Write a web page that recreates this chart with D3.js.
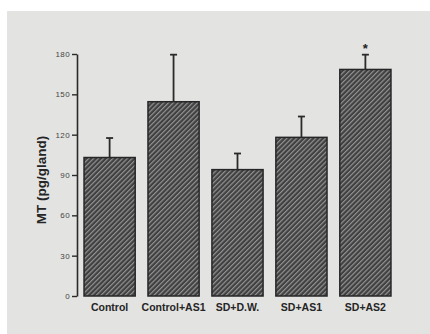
<!DOCTYPE html>
<html>
<head>
<meta charset="utf-8">
<script src="https://cdn.jsdelivr.net/npm/d3@7"></script>
<style>
  body { margin: 0; background: #fff; }
  svg { display: block; }
</style>
</head>
<body>
<div id="chart"></div>
<script>
// values
const groups = ['Control', 'Control+AS1', 'SD+D.W.', 'SD+AS1', 'SD+AS2'];
const means = [103, 144.5, 94, 118, 168.5];
const errors = [14.5, 35, 12, 15.5, 11];
const marks = ['', '', '', '', '*'];
const yTicks = [0, 30, 60, 90, 120, 150, 180];

const W = 430, H = 334;
const margin = { top: 54, right: 32, bottom: 38, left: 77 };
const innerH = H - margin.top - margin.bottom;

const svg = d3.select('#chart').append('svg')
  .attr('width', W)
  .attr('height', H);

// paper background
svg.append('rect')
  .attr('x', 7).attr('y', 11)
  .attr('width', W - 7).attr('height', H - 11)
  .attr('fill', '#e3e3e1');

const defs = svg.append('defs');
const pat = defs.append('pattern')
  .attr('id', 'hatch')
  .attr('patternUnits', 'userSpaceOnUse')
  .attr('width', 3.4).attr('height', 3.4)
  .attr('patternTransform', 'rotate(45)');
pat.append('rect').attr('width', 3.4).attr('height', 3.4).attr('fill', '#404040');
pat.append('rect').attr('x', 0).attr('width', 1.2).attr('height', 3.4).attr('fill', '#939393');

const g = svg.append('g')
  .attr('transform', 'translate(' + margin.left + ',' + margin.top + ')');

const x = d3.scaleBand()
  .domain(groups)
  .range([0, 321])
  .paddingInner(0.2)
  .paddingOuter(0.11);

const y = d3.scaleLinear()
  .domain([0, 180])
  .range([innerH, 0]);

// bars
g.selectAll('.bar')
  .data(groups)
  .enter().append('rect')
  .attr('class', 'bar')
  .attr('x', d => x(d))
  .attr('width', x.bandwidth())
  .attr('y', (d, i) => y(means[i]))
  .attr('height', (d, i) => innerH - y(means[i]))
  .attr('fill', 'url(#hatch)')
  .attr('stroke', '#262626')
  .attr('stroke-width', 1.5);

// error bars (upper only)
const eb = g.selectAll('.err')
  .data(groups)
  .enter().append('g')
  .attr('class', 'err')
  .attr('stroke', '#2a2a2a')
  .attr('stroke-width', 1.8);

eb.append('line')
  .attr('x1', d => x(d) + x.bandwidth() / 2)
  .attr('x2', d => x(d) + x.bandwidth() / 2)
  .attr('y1', (d, i) => y(means[i]))
  .attr('y2', (d, i) => y(means[i] + errors[i]));

eb.append('line')
  .attr('x1', d => x(d) + x.bandwidth() / 2 - 3.5)
  .attr('x2', d => x(d) + x.bandwidth() / 2 + 3.5)
  .attr('y1', (d, i) => y(means[i] + errors[i]))
  .attr('y2', (d, i) => y(means[i] + errors[i]));

// significance marks
g.selectAll('.mark')
  .data(groups)
  .enter().append('text')
  .attr('class', 'mark')
  .attr('x', d => x(d) + x.bandwidth() / 2)
  .attr('y', (d, i) => y(means[i] + errors[i]) - 2)
  .attr('text-anchor', 'middle')
  .style('font-family', 'Liberation Sans, Arial, sans-serif')
  .style('font-size', '13px')
  .style('font-weight', 'bold')
  .attr('fill', '#222')
  .text((d, i) => marks[i]);

// y axis
const yAxis = g.append('g')
  .attr('class', 'y-axis')
  .call(d3.axisLeft(y).tickValues(yTicks).tickSize(5).tickSizeOuter(0).tickPadding(2));

yAxis.select('.domain')
  .attr('stroke', '#2a2a2a')
  .attr('stroke-width', 1.6);
yAxis.selectAll('.tick line')
  .attr('stroke', '#2a2a2a')
  .attr('stroke-width', 1.4);
yAxis.selectAll('.tick text')
  .style('font-family', 'Liberation Sans, Arial, sans-serif')
  .style('font-size', '8px')
  .style('letter-spacing', '0.4px')
  .attr('fill', '#444');

// x labels, no axis line
const xAxis = g.append('g')
  .attr('class', 'x-axis')
  .attr('transform', 'translate(0,' + innerH + ')')
  .call(d3.axisBottom(x).tickSize(0).tickPadding(8));

xAxis.select('.domain').remove();
xAxis.selectAll('text')
  .style('font-family', 'Liberation Sans, Arial, sans-serif')
  .style('font-size', '10.5px')
  .style('font-weight', 'bold')
  .attr('fill', '#252525');

svg.append('text')
  .attr('transform', 'rotate(-90)')
  .attr('x', -180)
  .attr('y', 46)
  .style('text-anchor', 'middle')
  .style('font-family', 'Liberation Sans, Arial, sans-serif')
  .style('font-size', '13.5px')
  .style('font-weight', 'bold')
  .attr('fill', '#252525')
  .text('MT (pg/gland)');
</script>
</body>
</html>
